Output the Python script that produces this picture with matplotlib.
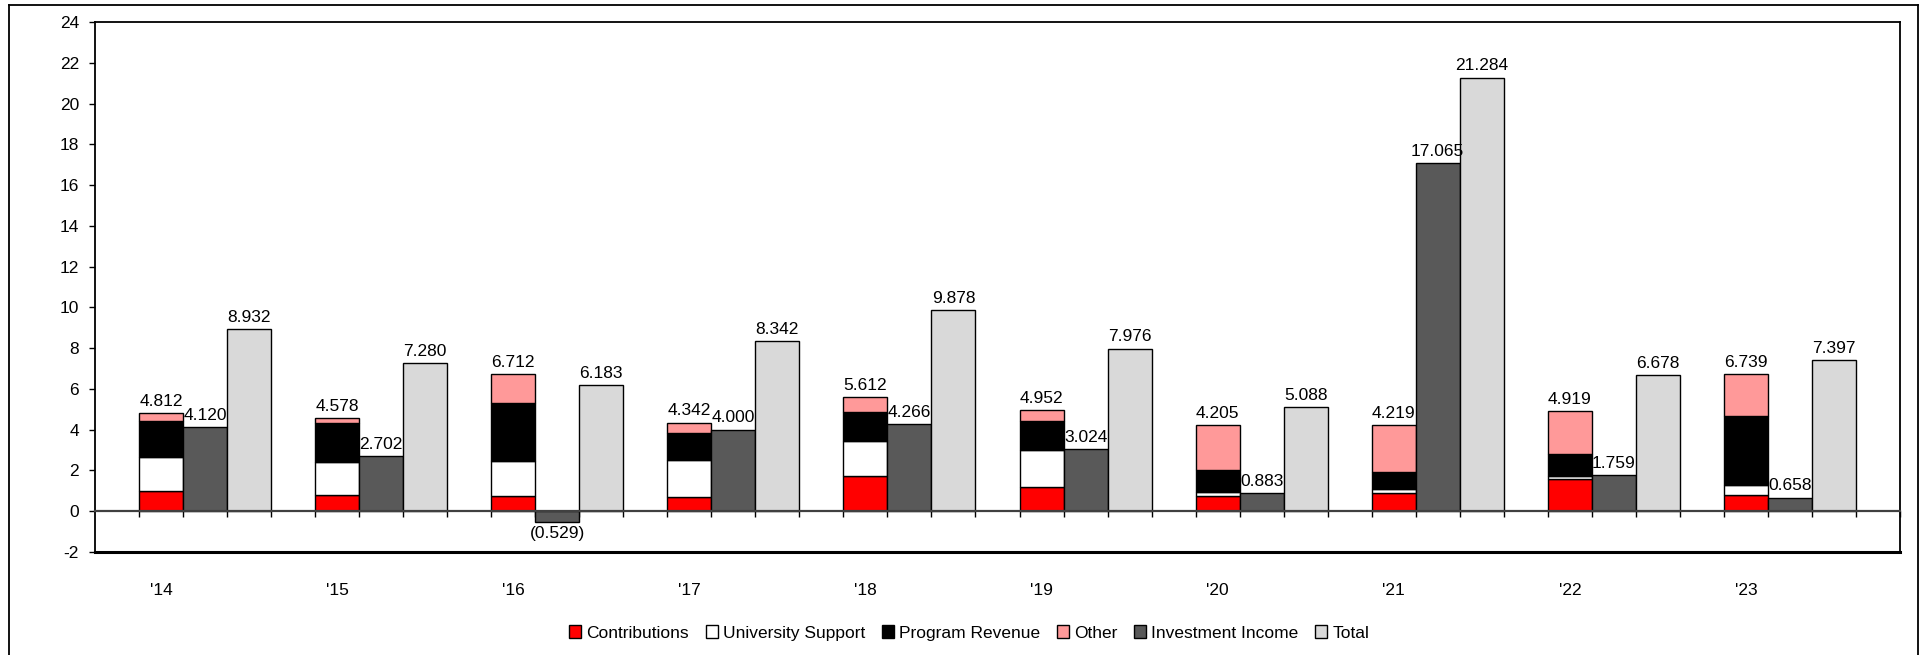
import numpy as np
import matplotlib
matplotlib.use("Agg")
import matplotlib.pyplot as plt
from matplotlib.lines import Line2D

plt.rcParams['font.family'] = ['Liberation Sans', 'DejaVu Sans']
plt.rcParams['axes.unicode_minus'] = False

# data ($M)
years = ["'14", "'15", "'16", "'17", "'18", "'19", "'20", "'21", "'22", "'23"]
contributions = [1.00, 0.80, 0.75, 0.69, 1.70, 1.18, 0.75, 0.90, 1.56, 0.80]
university_support = [1.63, 1.62, 1.72, 1.80, 1.75, 1.80, 0.17, 0.16, 0.16, 0.46]
program_revenue = [1.81, 1.89, 2.85, 1.34, 1.40, 1.46, 1.08, 0.87, 1.09, 3.39]
other = [0.372, 0.268, 1.392, 0.512, 0.762, 0.512, 2.205, 2.289, 2.109, 2.089]
investment_income = [4.120, 2.702, -0.529, 4.000, 4.266, 3.024, 0.883, 17.065, 1.759, 0.658]
total = [8.932, 7.280, 6.183, 8.342, 9.878, 7.976, 5.088, 21.284, 6.678, 7.397]

stack_names = ['Contributions', 'University Support', 'Program Revenue', 'Other']
stack_colors = ['#ff0000', '#ffffff', '#000000', '#ff9999']
inv_color = '#595959'
tot_color = '#d9d9d9'

def fmt(v):
    return '(%.3f)' % abs(v) if v < 0 else '%.3f' % v

fig = plt.figure(figsize=(19.27, 6.55), dpi=100)
ax = fig.add_axes([95 / 1927, 1 - 551.7 / 655, 1805 / 1927, 529.5 / 655])

n = len(years)
# each year takes 4 slots: stacked, investment, total, gap (plus one leading gap)
x0 = 1.5 + 4 * np.arange(n)
w = 1.0
ekw = dict(edgecolor='black', linewidth=1.0, width=w, zorder=3)

bottom = np.zeros(n)
for name, vals, col in zip(stack_names, [contributions, university_support, program_revenue, other], stack_colors):
    ax.bar(x0, vals, bottom=bottom, color=col, label=name, **ekw)
    bottom = bottom + np.array(vals)
ax.bar(x0 + 1, investment_income, color=inv_color, label='Investment Income', **ekw)
ax.bar(x0 + 2, total, color=tot_color, label='Total', **ekw)

lab = dict(ha='center', fontsize=12.5, textcoords='offset points')
for i in range(n):
    ax.annotate(fmt(bottom[i]), (x0[i], bottom[i]), xytext=(0, 3), va='bottom', **lab)
    v = investment_income[i]
    if v < 0:
        ax.annotate(fmt(v), (x0[i] + 1, v), xytext=(0, -3), va='top', **lab)
    else:
        ax.annotate(fmt(v), (x0[i] + 1, v), xytext=(0, 3), va='bottom', **lab)
    ax.annotate(fmt(total[i]), (x0[i] + 2, total[i]), xytext=(0, 3), va='bottom', **lab)

ax.set_xlim(0, 4 * n + 1)
ax.set_ylim(-2, 24)
ax.set_yticks(np.arange(-2, 25, 2))
ax.tick_params(axis='y', direction='out', length=4.5, width=1.0, pad=7, labelsize=12.5)

# x axis sits on zero; frame bottom stays at -2
ax.spines['bottom'].set_position(('data', 0))
ax.spines['bottom'].set_color('#404040')
ax.spines['bottom'].set_linewidth(1.6)
ax.spines['bottom'].set_zorder(4)
for s in ['left', 'top', 'right']:
    ax.spines[s].set_linewidth(1.3)
ax.axhline(-2, color='black', lw=2.2, clip_on=False)
ax.set_xticks(np.arange(1, 4 * n + 2))
ax.set_xticklabels([])
ax.tick_params(axis='x', which='major', direction='out', length=4.5, width=1.0)
ax.set_xticks(x0, minor=True)
ax.set_xticklabels(years, minor=True, fontsize=12.5)
ax.tick_params(axis='x', which='minor', length=0, pad=52)

# outer frame around the chart area
for xs, ys in [([9, 9], [5, 660]), ([9, 1918], [5, 5]), ([1918, 1918], [5, 660])]:
    fig.add_artist(Line2D([x / 1927 for x in xs], [1 - y / 655 for y in ys],
                          transform=fig.transFigure, color='black', lw=1.3))

fig.legend(loc='center', bbox_to_anchor=(0.503, 1 - 633 / 655), ncol=6, frameon=False,
           handlelength=0.7, handleheight=0.7, handletextpad=0.3,
           columnspacing=0.95, prop={'family': ['Liberation Sans Narrow', 'Liberation Sans'], 'size': 12.5})

fig.savefig('out.png', dpi=100)
